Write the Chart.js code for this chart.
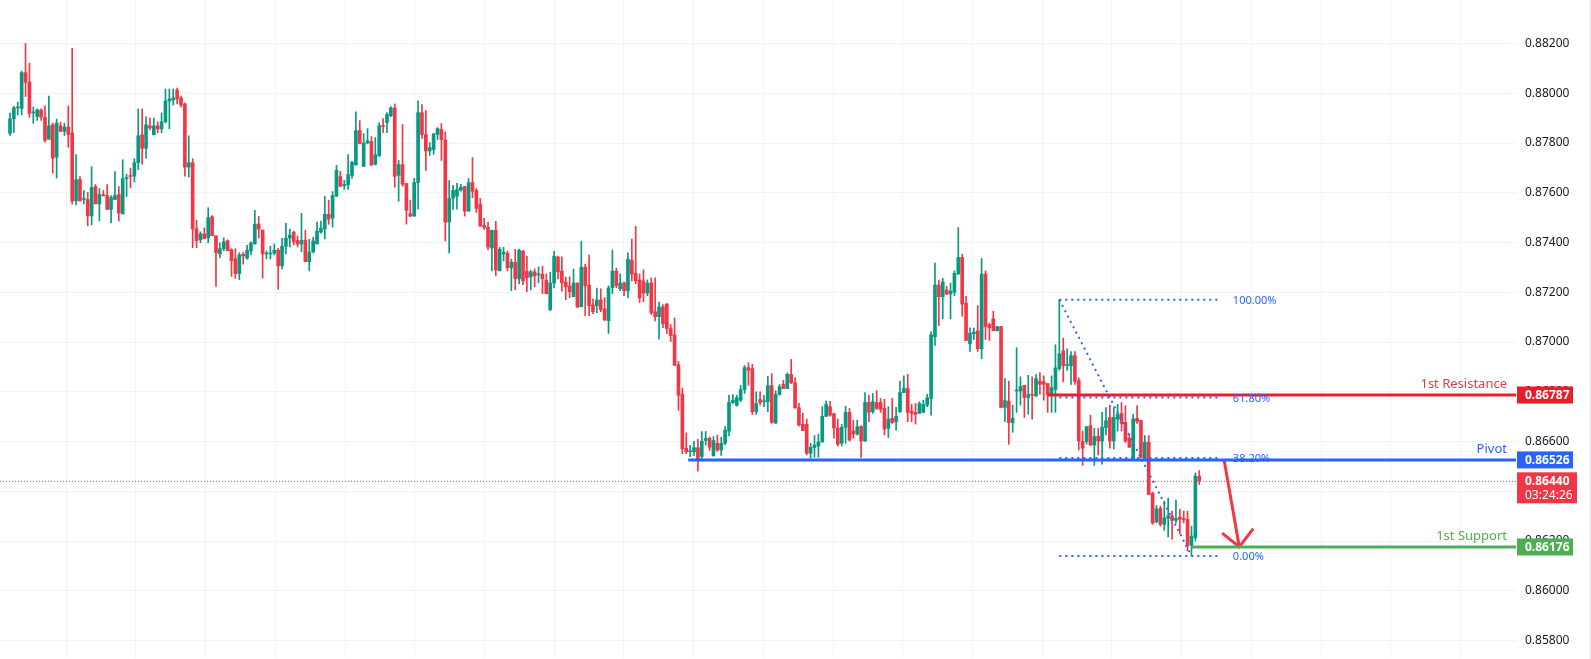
<!DOCTYPE html>
<html><head><meta charset="utf-8">
<script src="https://cdn.jsdelivr.net/npm/chart.js@4/dist/chart.umd.min.js"></script>
<style>html,body{margin:0;padding:0;background:#fff}#wrap{width:1591px;height:659px;position:relative}</style>
</head><body><div id="wrap"><canvas id="c" width="1591" height="659"></canvas></div>
<script>
// prices in units of 0.00001
const SCALE = 1e-5;
const candles = [ // [open, high, low, close]
[87839,87920,87831,87897],[87897,87947,87843,87941],[87941,87965,87913,87945],[87939,88089,87913,88083],[88083,88200,87987,88044],
[88045,88121,87903,87919],[87921,87945,87879,87923],[87907,87937,87891,87933],[87933,87937,87891,87904],[87904,87949,87803,87811],
[87815,87989,87815,87869],[87873,87880,87679,87739],[87743,87896,87659,87880],[87869,87884,87845,87847],[87847,87880,87830,87864],
[87864,87949,87783,87835],[87841,88181,87555,87567],[87567,87753,87551,87653],[87653,87665,87567,87567],[87573,87609,87555,87577],
[87573,87601,87467,87507],[87507,87705,87471,87621],[87625,87633,87565,87555],[87555,87617,87487,87593],[87592,87609,87587,87588],
[87589,87633,87533,87533],[87533,87589,87479,87581],[87573,87685,87573,87589],[87593,87625,87487,87519],[87515,87733,87515,87657],
[87657,87675,87585,87661],[87668,87699,87620,87665],[87667,87737,87643,87721],[87721,87937,87693,87829],[87833,87937,87715,87779],
[87779,87905,87739,87873],[87869,87901,87853,87861],[87833,87901,87833,87869],[87869,87885,87841,87857],[87857,87921,87841,87885],
[87885,88017,87881,87969],[87969,88017,87857,87977],[87973,88017,87953,87981],[88013,88021,87957,87977],[87981,87989,87945,87953],
[87957,87961,87667,87703],[87703,87829,87663,87721],[87721,87737,87379,87455],[87455,87489,87379,87407],[87411,87443,87399,87435],
[87435,87459,87415,87415],[87419,87540,87399,87500],[87504,87508,87427,87427],[87427,87427,87223,87359],[87355,87399,87339,87375],
[87375,87419,87367,87403],[87407,87411,87367,87367],[87371,87375,87264,87327],[87335,87375,87256,87275],[87275,87359,87251,87351],
[87353,87360,87313,87346],[87337,87389,87333,87369],[87366,87404,87350,87398],[87394,87529,87394,87474],[87474,87505,87418,87454],
[87450,87450,87257,87354],[87354,87366,87334,87358],[87354,87385,87334,87358],[87358,87394,87350,87369],[87369,87377,87211,87306],
[87306,87417,87294,87385],[87385,87477,87354,87417],[87418,87454,87382,87430],[87441,87446,87390,87402],[87408,87426,87382,87394],
[87394,87517,87362,87409],[87409,87450,87323,87323],[87323,87413,87286,87362],[87362,87421,87358,87406],[87394,87482,87394,87446],
[87442,87486,87438,87458],[87454,87586,87414,87514],[87513,87570,87473,87494],[87498,87605,87462,87589],[87586,87710,87586,87690],
[87665,87686,87624,87626],[87629,87650,87614,87634],[87632,87753,87613,87673],[87670,87726,87658,87722],[87713,87925,87710,87850],
[87850,87890,87796,87798],[87706,87838,87706,87800],[87800,87858,87796,87809],[87806,87826,87710,87712],[87714,87822,87712,87753],
[87750,87882,87745,87870],[87870,87898,87842,87866],[87882,87922,87842,87914],[87910,87946,87906,87941],[87941,87957,87622,87666],
[87670,87730,87566,87713],[87713,87874,87626,87634],[87637,87638,87474,87530],[87516,87570,87504,87506],[87506,87658,87506,87641],
[87641,87970,87534,87922],[87922,87954,87818,87834],[87834,87930,87690,87768],[87768,87802,87750,87781],[87774,87838,87754,87837],
[87834,87862,87814,87858],[87854,87878,87730,87814],[87813,87845,87406,87482],[87482,87649,87358,87577],[87578,87630,87533,87609],
[87586,87638,87534,87613],[87610,87634,87606,87622],[87625,87626,87506,87526],[87526,87657,87526,87641],[87641,87741,87580,87606],
[87609,87617,87521,87537],[87553,87577,87465,87466],[87469,87497,87453,87461],[87461,87481,87370,87382],[87378,87450,87286,87449],
[87449,87485,87266,87290],[87286,87381,87286,87373],[87354,87381,87326,87361],[87357,87365,87286,87298],[87298,87333,87206,87321],
[87321,87373,87210,87254],[87254,87374,87234,87369],[87365,87369,87230,87246],[87285,87345,87202,87258],[87262,87289,87210,87282],
[87282,87294,87222,87266],[87270,87302,87238,87273],[87272,87305,87194,87254],[87249,87274,87194,87194],[87130,87281,87126,87237],
[87237,87365,87217,87345],[87341,87345,87254,87282],[87285,87342,87204,87238],[87241,87261,87170,87222],[87225,87262,87178,87202],
[87182,87293,87182,87237],[87237,87238,87138,87141],[87142,87405,87141,87301],[87301,87313,87106,87226],[87229,87349,87106,87146],
[87149,87173,87114,87122],[87146,87217,87118,87169],[87169,87214,87122,87130],[87133,87178,87086,87089],[87086,87226,87034,87217],
[87218,87370,87194,87285],[87285,87297,87218,87226],[87214,87273,87206,87237],[87237,87242,87186,87206],[87206,87358,87178,87333],
[87329,87414,87246,87273],[87277,87465,87234,87246],[87249,87273,87158,87178],[87245,87290,87162,87197],[87197,87250,87186,87237],
[87237,87258,87110,87118],[87122,87258,87085,87102],[87102,87161,87011,87141],[87141,87150,87058,87074],[87153,87154,87034,87054],
[87054,87070,87002,87026],[87029,87097,86906,86906],[86909,86922,86726,86786],[86791,86815,86551,86571],[86573,86635,86551,86559],
[86559,86585,86539,86563],[86559,86601,86543,86575],[86575,86609,86481,86531],[86540,86640,86522,86601],[86604,86640,86586,86613],
[86613,86618,86564,86577],[86542,86620,86542,86604],[86593,86626,86560,86566],[86566,86617,86544,86593],[86593,86660,86586,86645],
[86642,86786,86622,86757],[86757,86789,86753,86766],[86746,86786,86742,86776],[86766,86826,86760,86809],[86809,86906,86793,86897],
[86897,86917,86826,86886],[86893,86910,86709,86720],[86720,86800,86709,86753],[86769,86800,86746,86757],[86760,86786,86740,86762],
[86760,86862,86720,86825],[86825,86873,86673,86677],[86674,86804,86673,86790],[86790,86829,86786,86820],[86830,86846,86813,86813],
[86813,86876,86813,86870],[86870,86930,86833,86836],[86836,86857,86733,86736],[86736,86753,86662,86666],[86669,86713,86644,86644],
[86669,86690,86546,86553],[86553,86593,86533,86577],[86576,86624,86537,86586],[86582,86629,86537,86598],[86598,86740,86598,86701],
[86701,86764,86701,86749],[86740,86762,86702,86706],[86712,86713,86613,86654],[86654,86690,86582,86589],[86593,86669,86582,86657],
[86657,86742,86593,86717],[86717,86733,86602,86606],[86642,86686,86613,86630],[86630,86686,86626,86660],[86660,86664,86536,86602],
[86602,86797,86600,86757],[86757,86786,86680,86717],[86720,86793,86713,86760],[86757,86804,86729,86733],[86757,86773,86717,86729],
[86733,86770,86626,86650],[86653,86740,86616,86690],[86693,86773,86673,86676],[86680,86737,86646,86702],[86720,86842,86717,86797],
[86797,86864,86796,86813],[86813,86870,86680,86717],[86722,86750,86680,86713],[86717,86753,86670,86709],[86713,86760,86713,86753],
[86717,86766,86717,86749],[86746,86790,86740,86776],[86773,87042,86706,87029],[87021,87317,86986,87229],[87229,87249,87066,87182],
[87182,87256,87093,87242],[87209,87224,87190,87193],[87193,87237,87093,87205],[87200,87286,87186,87276],[87273,87460,87273,87340],
[87340,87353,87104,87153],[87156,87184,87006,87006],[86993,87057,86962,87036],[87033,87056,87010,87040],[87045,87146,86962,86973],
[86973,87336,86933,87273],[87273,87286,87010,87062],[87070,87076,87006,87057],[87093,87124,87045,87045],[87045,87062,87045,87062],
[87062,87062,86737,86737],[86737,86853,86680,86765],[86762,86842,86589,86676],[86676,86746,86637,86693],[86803,86977,86717,86805],
[86803,86860,86746,86821],[86826,86826,86697,86777],[86777,86866,86710,86789],[86789,86860,86690,86786],[86782,86870,86782,86853],
[86842,86877,86789,86830],[86840,86864,86766,86830],[86833,86833,86717,86789],[86789,86864,86717,86817],[86809,86989,86717,86896],
[86893,87170,86886,86953],[86965,87016,86840,86905],[86906,86973,86886,86910],[86904,86962,86829,86945],[86945,86962,86829,86842],
[86845,86856,86566,86602],[86600,86642,86504,86573],[86600,86660,86589,86660],[86664,86706,86584,86586],[86586,86653,86504,86620],
[86621,86653,86546,86602],[86602,86717,86509,86657],[86656,86736,86626,86683],[86696,86746,86573,86602],[86602,86736,86570,86697],
[86690,86749,86642,86709],[86713,86757,86642,86673],[86677,86744,86596,86602],[86613,86629,86576,86577],[86533,86709,86530,86691],
[86693,86744,86673,86680],[86685,86685,86536,86536],[86533,86624,86530,86597],[86597,86624,86387,86387],[86392,86397,86267,86272],
[86277,86343,86273,86329],[86331,86340,86260,86267],[86267,86360,86243,86293],[86291,86373,86216,86301],[86301,86320,86207,86283],
[86283,86365,86273,86291],[86296,86327,86229,86287],[86289,86320,86273,86287],[86287,86320,86160,86183],[86183,86260,86140,86220],
[86213,86473,86200,86461],[86461,86483,86427,86443]
];
const yTicks = [0.882,0.880,0.878,0.876,0.874,0.872,0.870,0.868,0.866,0.864,0.862,0.860,0.858];
const resistance = 0.86787, pivot = 0.86526, support = 0.86176, lastPrice = 0.86440, countdown = "03:24:26";
const fibHigh = 0.87170, fibLow = 0.86140;
const fibLevels = [1.0, 0.618, 0.382, 0.0];
const fibLabels = ["100.00%","61.80%","38.20%","0.00%"];
const fibStart = 271, fibEnd = 305, fibLineEnd = 312.3;
const resStart = 268, pivStart = 175.5, supStart = 305;
const arrowFrom = [313.4, 0.86526], arrowTo = [317.3, 0.86176];
const arrowHeadL = [312.9, 0.86232], arrowHeadR = [320.9, 0.86250];
const xMin = -1.573, xMax = 388.5;
const xGrid = [15.33,33.27,51.2,69.14,87.08,105.0,122.95,140.9,158.83,176.76,194.7,212.64,230.58,248.5,266.45,284.4,302.33,320.27,338.2,356.14,374.08];

const GREEN = '#089981', RED = '#f23645';
const bodies = candles.map((c,i)=>({x:i+1,y:[c[0]*SCALE, c[3]*SCALE]}));
const wicks = candles.map((c,i)=>({x:i+1,y:[c[2]*SCALE, c[1]*SCALE]}));
const cols = candles.map(c=>c[3]>=c[0]?GREEN:RED);
const hline = (x0,v)=>[{x:x0,y:v},{x:xMax,y:v}];
const fibDs = fibLevels.map(f=>({type:'line',data:[{x:fibStart,y:fibLow+(fibHigh-fibLow)*f},{x:fibLineEnd,y:fibLow+(fibHigh-fibLow)*f}],borderColor:'#2962ff',borderWidth:2,borderDash:[2,4],pointRadius:0,order:0}));
const lineDs = (data,color,w,dash)=>({type:'line',data,borderColor:color,borderWidth:w,borderDash:dash||[],pointRadius:0,order:0,tension:0});

const overlay = {
  id:'overlay',
  beforeDatasetsDraw(ch){
    const {ctx,chartArea:a,scales:{x}}=ch;
    ctx.save();ctx.strokeStyle='#f0f3fa';ctx.lineWidth=1;
    xGrid.forEach(v=>{const px=Math.round(x.getPixelForValue(v))+0.5;ctx.beginPath();ctx.moveTo(px,a.top);ctx.lineTo(px,a.bottom);ctx.stroke();});
    ctx.restore();
  },
  afterDraw(ch){
    const {ctx,chartArea:a,scales:{x,y}}=ch;
    ctx.save();
    ctx.font='12px "Noto Sans", sans-serif';ctx.fillStyle='#131722';ctx.textBaseline='middle';ctx.textAlign='left';
    yTicks.forEach(v=>ctx.fillText(v.toFixed(5),a.right+9,y.getPixelForValue(v)));
    ctx.font='11px "Noto Sans", sans-serif';ctx.fillStyle='#2962ff';
    fibLevels.forEach((f,i)=>{const v=fibLow+(fibHigh-fibLow)*f;ctx.fillText(fibLabels[i],x.getPixelForValue(fibLineEnd)+13,y.getPixelForValue(v)+1);});
    ctx.font='13px "Noto Sans", sans-serif';ctx.textAlign='right';ctx.textBaseline='alphabetic';
    const tl=[["1st Resistance",resistance,'#f23645'],["Pivot",pivot,'#2962ff'],["1st Support",support,'#4caf50']];
    tl.forEach(t=>{ctx.fillStyle=t[2];ctx.fillText(t[0],a.right-9,y.getPixelForValue(t[1])-7);});
    ctx.font='bold 12px "Noto Sans", sans-serif';ctx.textAlign='left';ctx.textBaseline='middle';
    const boxes=[[resistance,'#eb1c2c'],[pivot,'#2962ff'],[support,'#4caf50']];
    boxes.forEach(b=>{const py=y.getPixelForValue(b[0]);ctx.fillStyle=b[1];ctx.fillRect(a.right+1,py-8.5,56,17);ctx.fillStyle='#fff';ctx.fillText(b[0].toFixed(5),a.right+9,py+0.5);});
    const py=y.getPixelForValue(lastPrice);ctx.fillStyle='#f23645';ctx.fillRect(a.right+1,py-9,60,31);
    ctx.fillStyle='#fff';ctx.fillText(lastPrice.toFixed(5),a.right+9,py+0.5);ctx.font='12px "Noto Sans", sans-serif';ctx.fillText(countdown,a.right+9,py+14.5);
    ctx.strokeStyle='#e0e3eb';ctx.lineWidth=1;ctx.beginPath();ctx.moveTo(1590.5,0);ctx.lineTo(1590.5,659);ctx.stroke();
    ctx.restore();
  }
};

new Chart(document.getElementById('c'),{
  type:'bar',
  data:{datasets:[
    lineDs(hline(xMin,lastPrice),'#f23645',1,[1,2]),
    {type:'bar',data:wicks,backgroundColor:cols,barThickness:1,grouped:false,order:2},
    {type:'bar',data:bodies,backgroundColor:cols,barThickness:3,minBarLength:1,grouped:false,order:1},
    ...fibDs,
    lineDs([{x:fibStart,y:fibHigh},{x:fibEnd,y:fibLow}],'#2962ff',2,[2,4]),
    lineDs(hline(resStart,resistance),'#eb1c2c',3),
    lineDs(hline(pivStart,pivot),'#2962ff',3),
    lineDs(hline(supStart,support),'#4caf50',3),
    lineDs([{x:arrowFrom[0],y:arrowFrom[1]},{x:arrowTo[0],y:arrowTo[1]}],'#f23645',3),
    lineDs([{x:arrowHeadL[0],y:arrowHeadL[1]},{x:arrowTo[0],y:arrowTo[1]},{x:arrowHeadR[0],y:arrowHeadR[1]}],'#f23645',3)
  ]},
  options:{
    responsive:false,animation:false,devicePixelRatio:1,
    layout:{padding:{top:0,bottom:2,left:0,right:0}},
    plugins:{legend:{display:false},tooltip:{enabled:false}},
    scales:{
      x:{type:'linear',min:xMin,max:xMax,offset:false,display:false},
      y:{position:'right',min:0.857337,max:0.883749,
        afterBuildTicks(s){s.ticks=yTicks.map(v=>({value:v}));},
        afterFit(s){s.width=75;},
        grid:{color:'#f0f3fa',drawTicks:false},border:{display:false},
        ticks:{display:false}}
    }
  },
  plugins:[overlay]
});
</script></body></html>
